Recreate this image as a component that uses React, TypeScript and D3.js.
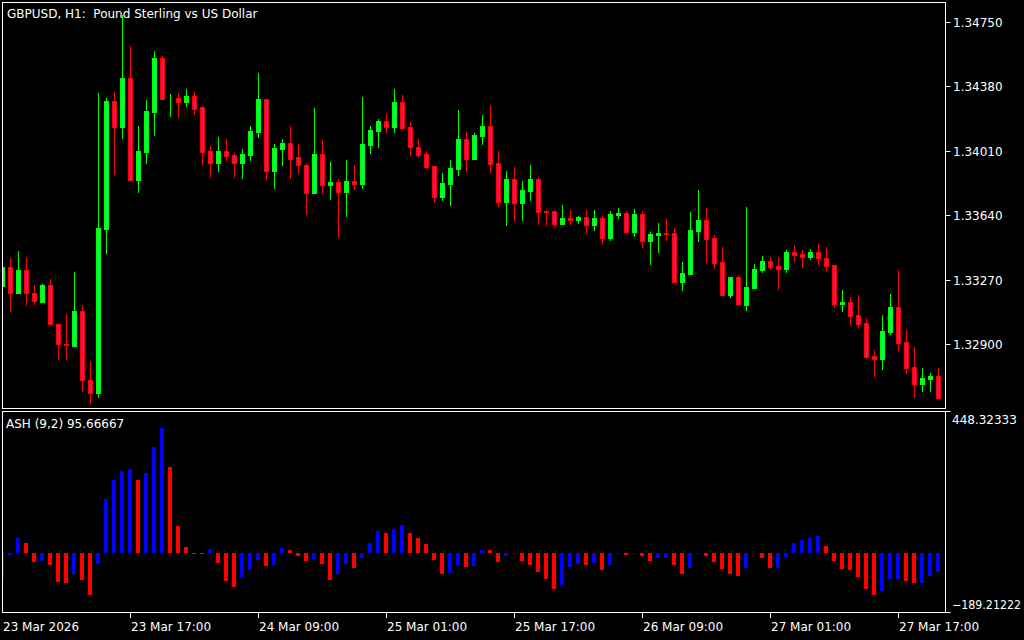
import React from "react";
import * as d3 from "d3";

// ---------- data ----------
const title = "GBPUSD, H1:  Pound Sterling vs US Dollar";
const ashLabel = "ASH (9,2) 95.66667";
const firstDateLabel = "23 Mar 2026";

const opens = [
  1.33235, 1.33344, 1.33195, 1.33325, 1.33191, 1.33143, 1.33239, 1.33015, 1.32898, 1.3289,
  1.3309, 1.32693, 1.3262, 1.33561, 1.34296, 1.34148, 1.34428, 1.33844, 1.34005, 1.34235,
  1.34543, 1.34305, 1.34315, 1.34292, 1.34325, 1.34262, 1.34009, 1.33942, 1.34009, 1.33986,
  1.33942, 1.33986, 1.3412, 1.34308, 1.33896, 1.34022, 1.34055, 1.33974, 1.3393, 1.33769,
  1.33992, 1.33812, 1.33831, 1.33775, 1.33836, 1.33821, 1.34045, 1.34126, 1.34181, 1.34148,
  1.3429, 1.34147, 1.34032, 1.33992, 1.33923, 1.33746, 1.33821, 1.33907, 1.34078, 1.33965,
  1.34097, 1.34152, 1.3394, 1.33718, 1.33848, 1.33712, 1.33781, 1.33848, 1.33666, 1.33666,
  1.33591, 1.33626, 1.33614, 1.33631, 1.33585, 1.33626, 1.33511, 1.33643, 1.33654, 1.33545,
  1.33649, 1.33494, 1.33528, 1.3354, 1.3354, 1.33258, 1.33304, 1.33551, 1.33614, 1.33511,
  1.33373, 1.33183, 1.33287, 1.33126, 1.33223, 1.33327, 1.33379, 1.3335, 1.33333, 1.3343,
  1.33419, 1.33402, 1.3343, 1.33396, 1.33356, 1.33132, 1.33143, 1.33068, 1.33022, 1.32833,
  1.32816, 1.32971, 1.33114, 1.32913, 1.3277, 1.32672, 1.32701, 1.32718,
];
const highs = [
  1.33354, 1.33396, 1.33434, 1.334, 1.33239, 1.33245, 1.33273, 1.33022, 1.33072, 1.33314,
  1.33124, 1.32802, 1.34342, 1.34312, 1.34348, 1.3479, 1.34612, 1.34152, 1.34302, 1.34583,
  1.34555, 1.34336, 1.34342, 1.34367, 1.34348, 1.34267, 1.34039, 1.34091, 1.34078, 1.33999,
  1.3402, 1.34154, 1.34457, 1.34308, 1.34049, 1.34078, 1.34152, 1.34049, 1.3394, 1.34258,
  1.34072, 1.33946, 1.33848, 1.33957, 1.33928, 1.34319, 1.34152, 1.34193, 1.34221, 1.34365,
  1.34331, 1.34175, 1.34078, 1.34003, 1.33923, 1.33882, 1.33957, 1.34244, 1.34118, 1.34112,
  1.34216, 1.34273, 1.34011, 1.33894, 1.33917, 1.33836, 1.33928, 1.3386, 1.33672, 1.33666,
  1.337, 1.33672, 1.33637, 1.33672, 1.33672, 1.33637, 1.33666, 1.33683, 1.33666, 1.33677,
  1.33666, 1.33545, 1.33597, 1.3362, 1.33568, 1.33373, 1.3366, 1.33787, 1.33683, 1.33528,
  1.33459, 1.33287, 1.33298, 1.33689, 1.33361, 1.33407, 1.33402, 1.33402, 1.33442, 1.33471,
  1.33442, 1.33448, 1.33476, 1.33459, 1.33356, 1.33212, 1.33172, 1.33183, 1.33051, 1.32867,
  1.33068, 1.33189, 1.33327, 1.32982, 1.32885, 1.32764, 1.32735, 1.32764,
];
const lows = [
  1.33222, 1.33091, 1.33195, 1.33124, 1.33132, 1.33143, 1.33013, 1.32812, 1.32812, 1.3289,
  1.32632, 1.32563, 1.32597, 1.33425, 1.33878, 1.34085, 1.33836, 1.33775, 1.33942, 1.34103,
  1.34309, 1.34212, 1.34206, 1.34267, 1.34223, 1.33936, 1.33861, 1.33896, 1.33957, 1.33861,
  1.33855, 1.33959, 1.34091, 1.3385, 1.33798, 1.3393, 1.33855, 1.33884, 1.33649, 1.33766,
  1.33769, 1.33735, 1.33517, 1.33637, 1.33792, 1.33798, 1.33999, 1.34034, 1.3412, 1.3412,
  1.34134, 1.33988, 1.33976, 1.33913, 1.33718, 1.33729, 1.337, 1.33873, 1.33896, 1.33965,
  1.34051, 1.3389, 1.33695, 1.33585, 1.33614, 1.33614, 1.33729, 1.33591, 1.33585, 1.3358,
  1.33591, 1.33591, 1.33597, 1.3354, 1.33557, 1.33482, 1.33499, 1.33626, 1.33545, 1.33522,
  1.33459, 1.33361, 1.3343, 1.33499, 1.33258, 1.33212, 1.33304, 1.33494, 1.33373, 1.33338,
  1.33183, 1.33172, 1.33126, 1.33097, 1.33223, 1.33315, 1.33333, 1.33218, 1.33315, 1.33379,
  1.33344, 1.3339, 1.33361, 1.33327, 1.33114, 1.33091, 1.33017, 1.32999, 1.32821, 1.32718,
  1.32758, 1.32959, 1.32867, 1.32735, 1.32597, 1.32632, 1.32632, 1.32592,
];
const closes = [
  1.33344, 1.33195, 1.33325, 1.33191, 1.33145, 1.33239, 1.33013, 1.32898, 1.32893, 1.3309,
  1.32691, 1.3262, 1.33566, 1.34296, 1.34148, 1.34428, 1.33844, 1.34009, 1.34239, 1.34543,
  1.34309, 1.34309, 1.34292, 1.34325, 1.34252, 1.34005, 1.33942, 1.34009, 1.33982, 1.33942,
  1.33992, 1.34124, 1.34308, 1.33896, 1.34026, 1.34055, 1.33965, 1.33927, 1.33769, 1.33992,
  1.33812, 1.33831, 1.33775, 1.33836, 1.33821, 1.34049, 1.3413, 1.34181, 1.34148, 1.3429,
  1.34139, 1.3403, 1.33988, 1.33919, 1.33746, 1.33825, 1.33911, 1.34078, 1.33965, 1.34101,
  1.34152, 1.33936, 1.33718, 1.33848, 1.33712, 1.33785, 1.33848, 1.3366, 1.3366, 1.33591,
  1.33626, 1.33614, 1.33631, 1.33585, 1.33626, 1.33511, 1.33649, 1.33654, 1.33545, 1.33649,
  1.33494, 1.33534, 1.3354, 1.33534, 1.33258, 1.3331, 1.33557, 1.33614, 1.33505, 1.33367,
  1.33183, 1.33287, 1.33132, 1.33229, 1.33333, 1.33379, 1.33344, 1.33333, 1.3343, 1.33413,
  1.33402, 1.3343, 1.33396, 1.3335, 1.33132, 1.33143, 1.33063, 1.33017, 1.32827, 1.32816,
  1.32976, 1.33114, 1.32908, 1.32764, 1.32672, 1.32706, 1.32718, 1.32592,
];

const ashValues = [
  -81.4, -6.3, 46.5, 31.7, -29.6, -25.4, -38.1, -92, -95.2, -67.7,
  -85.6, -133.2, -35.9, 170.2, 230.5, 259, 265.4, 230.5, 252.7, 335.2,
  395.4, 271.7, 84.6, 18, -3, -3, 11.6, -31.7, -88.8, -105.7,
  -76.1, -55, -23.3, -42.3, -38.1, 14.8, 8.5, -10.6, -25.4, -19,
  -35.9, -85.6, -67.7, -35.9, -48.6, -16.9, 31.7, 68.7, 62.4, 71.9,
  87.8, 62.4, 46.5, 27.5, -23.3, -67.7, -63.4, -38.1, -44.4, -42.3,
  8.5, 8.5, -29.6, -10.6, -2, -25.4, -38.1, -61.3, -82.5, -112,
  -99.4, -44.4, -35.9, -38.1, -31.7, -55, -38.1, -2, -5.3, -2,
  -8, -25.4, -16.9, -16.9, -38.1, -67.7, -48.6, -2, -8, -28.5,
  -50.7, -67.7, -74, -48.6, -2, -16.9, -48.6, -48.6, -12.7, 31.7,
  40.2, 46.5, 52.9, 21.1, -25.4, -50.7, -55, -76.1, -112, -131.1,
  -118.4, -82.5, -80.4, -88.8, -93, -93, -74, -61.3,
];
// 1 = bullish buffer (blue), 0 = bearish buffer (red)
const ashBull = [
  1, 1, 1, 0, 0, 1, 0, 0, 0, 1,
  0, 0, 1, 1, 1, 1, 1, 0, 1, 1,
  1, 0, 0, 0, 0, 0, 1, 0, 0, 0,
  1, 1, 1, 0, 1, 1, 0, 0, 0, 1,
  0, 0, 1, 1, 0, 1, 1, 1, 0, 1,
  1, 0, 0, 0, 0, 0, 1, 1, 0, 1,
  1, 0, 0, 1, 1, 0, 0, 0, 0, 0,
  1, 1, 1, 0, 1, 0, 1, 1, 0, 1,
  0, 0, 1, 1, 0, 0, 1, 1, 0, 0,
  0, 0, 0, 1, 1, 0, 0, 1, 1, 1,
  1, 1, 1, 0, 0, 0, 0, 0, 0, 0,
  1, 1, 1, 0, 0, 1, 1, 1,
];

const priceTicks = [1.3475, 1.3438, 1.3401, 1.3364, 1.3327, 1.329];
const ashMax = 448.32333;
const ashMin = -189.21222;
const timeTickIndex = [16, 32, 48, 64, 80, 96, 112];
const timeTickLabels = [
  "23 Mar 17:00", "24 Mar 09:00", "25 Mar 01:00", "25 Mar 17:00",
  "26 Mar 09:00", "27 Mar 01:00", "27 Mar 17:00",
];

// ---------- layout ----------
const W = 1024;
const H = 640;
const L = 2.5, R = 945.5;
const mainTop = 2.5, mainBottom = 408.5;
const subTop = 411.5, subBottom = 612.5;
const FONT = "'DejaVu Sans', Verdana, sans-serif";

const UP_FILL = "#00ff4c";
const UP_LINE = "#00ff00";
const DN_FILL = "#ff0a5a";
const DN_LINE = "#ff0000";

export default function App() {
  const n = closes.length;
  const x = d3.scaleLinear().domain([0, n - 1]).range([2, 2 + 8 * (n - 1)]);
  const y = d3.scaleLinear().domain([1.329, 1.3475]).range([344, 22]);
  const ya = d3.scaleLinear().domain([ashMin, ashMax]).range([613, 411]);
  const fmt = d3.format(".5f");
  const zero = Math.round(ya(0));

  const candles = d3.range(n).map((i) => {
    const c = Math.round(x(i));
    const o = opens[i], cl = closes[i];
    const up = cl >= o;
    const yT = Math.round(y(Math.max(o, cl)));
    const yB = Math.round(y(Math.min(o, cl)));
    const yH = Math.round(y(highs[i]));
    const yL = Math.round(y(lows[i]));
    return (
      <g key={i}>
        <line x1={c + 0.5} x2={c + 0.5} y1={yH} y2={yL + 1} stroke={up ? UP_LINE : DN_LINE} strokeWidth={1} />
        <rect
          x={c - 1.5}
          y={yT + 0.5}
          width={4}
          height={Math.max(0, yB - yT)}
          fill={up ? UP_FILL : DN_FILL}
          stroke={up ? UP_LINE : DN_LINE}
          strokeWidth={1}
        />
      </g>
    );
  });

  const bars = d3.range(n).map((i) => {
    const c = Math.round(x(i));
    const v = ashValues[i];
    const yv = Math.round(ya(v));
    let top: number, h: number;
    if (v >= 0) {
      top = Math.min(yv, zero - 1);
      h = zero - top;
    } else {
      top = zero;
      h = Math.max(1, yv - zero);
    }
    return (
      <rect key={i} x={c - 2} y={top} width={4} height={h} fill={ashBull[i] ? "#0000ff" : "#ff0000"} />
    );
  });

  return (
    <svg
      width={W}
      height={H}
      style={{ position: "fixed", left: 0, top: 0, background: "#000", display: "block" }}
      xmlns="http://www.w3.org/2000/svg"
    >
      <defs>
        <clipPath id="clipMain">
          <rect x={3} y={3} width={R - 3.5} height={mainBottom - 3.5} />
        </clipPath>
        <clipPath id="clipSub">
          <rect x={3} y={subTop + 0.5} width={R - 3.5} height={subBottom - subTop - 1} />
        </clipPath>
      </defs>
      <rect x={0} y={0} width={W} height={H} fill="#000" />

      {/* main panel */}
      <g clipPath="url(#clipMain)">{candles}</g>
      <rect x={L} y={mainTop} width={R - L} height={mainBottom - mainTop} fill="none" stroke="#fff" strokeWidth={1} />
      <text x={7} y={17.5} fill="#fff" fontFamily={FONT} fontSize={12} style={{ whiteSpace: "pre" }}>
        {title}
      </text>

      {/* price axis */}
      {priceTicks.map((p) => {
        const ty = Math.round(y(p));
        return (
          <g key={p}>
            <line x1={R} x2={R + 5} y1={ty + 0.5} y2={ty + 0.5} stroke="#fff" strokeWidth={1} />
            <text x={953} y={ty + 4.5} fill="#fff" fontFamily={FONT} fontSize={12}>
              {fmt(p)}
            </text>
          </g>
        );
      })}

      {/* indicator panel */}
      <g clipPath="url(#clipSub)">{bars}</g>
      <rect x={L} y={subTop} width={R - L} height={subBottom - subTop} fill="none" stroke="#fff" strokeWidth={1} />
      <text x={6} y={428} fill="#fff" fontFamily={FONT} fontSize={12}>
        {ashLabel}
      </text>
      <line x1={R} x2={R + 5} y1={subTop} y2={subTop} stroke="#fff" strokeWidth={1} />
      <line x1={R} x2={R + 5} y1={subBottom} y2={subBottom} stroke="#fff" strokeWidth={1} />
      <text x={952} y={423.5} fill="#fff" fontFamily={FONT} fontSize={12}>
        {d3.format(".5f")(ashMax)}
      </text>
      <text x={952} y={609} fill="#fff" fontFamily={FONT} fontSize={12} textLength={69} lengthAdjust="spacingAndGlyphs">
        {d3.format(".5f")(ashMin)}
      </text>

      {/* time axis */}
      <text x={3} y={631} fill="#fff" fontFamily={FONT} fontSize={12}>
        {firstDateLabel}
      </text>
      {timeTickIndex.map((ti, j) => {
        const tx = Math.round(x(ti));
        return (
          <g key={ti}>
            <line x1={tx + 0.5} x2={tx + 0.5} y1={subBottom} y2={618} stroke="#fff" strokeWidth={1} />
            <text x={tx + 1} y={631} fill="#fff" fontFamily={FONT} fontSize={12}>
              {timeTickLabels[j]}
            </text>
          </g>
        );
      })}
    </svg>
  );
}
